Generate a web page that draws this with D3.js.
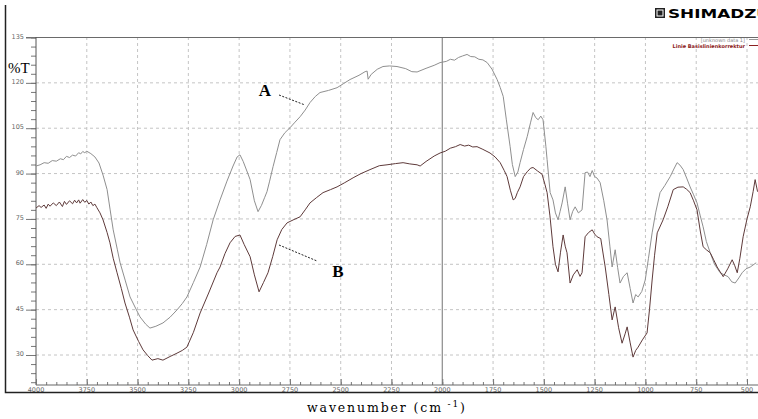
<!doctype html>
<html>
<head>
    <meta charset="utf-8">
    <title>FTIR spectrum</title>
    <script src="https://cdn.jsdelivr.net/npm/d3@7"></script>
    <style>
        html, body { margin: 0; padding: 0; background: #fff; }
        svg { display: block; }
    </style>
</head>
<body>
<div id="chart"></div>
<script>
// wavenumber (cm-1) and %T, curve A (grey, upper)
var wnA = [4000, 3980, 3960, 3940, 3920, 3900, 3880, 3865, 3850, 3835, 3820, 3805, 3790, 3780, 3770, 3760, 3750, 3730, 3710, 3690,
    3670, 3650, 3635, 3620, 3600, 3586, 3560, 3537,
    3510, 3488, 3460, 3439, 3410, 3375, 3340, 3306, 3280, 3257, 3225, 3192, 3160, 3128, 3094, 3060, 3030, 3010, 2996, 2980,
    2960, 2946, 2925, 2907, 2890, 2875, 2863, 2850, 2833, 2815, 2799, 2775, 2749, 2725, 2700, 2675, 2651, 2625, 2602, 2560,
    2518, 2485, 2454, 2410, 2380, 2370, 2365, 2350, 2320, 2292, 2260, 2223, 2180, 2150, 2124, 2080, 2040, 2011, 1980, 1960, 1940, 1920,
    1900, 1878, 1860, 1840, 1820, 1800, 1779, 1755, 1730, 1715, 1700, 1685, 1666, 1655, 1641, 1628, 1617, 1600, 1582, 1565, 1553, 1540, 1528,
    1515, 1504, 1490, 1484, 1469, 1455, 1443, 1430, 1420, 1410, 1395, 1383, 1371, 1358, 1346, 1330, 1312, 1297, 1285, 1273,
    1262, 1250, 1238, 1223, 1205, 1189, 1175, 1164, 1149, 1137, 1125, 1108, 1090, 1075, 1061, 1048, 1036, 1018, 1001, 985,
    967, 950, 928, 905, 878, 860, 844, 830, 814, 797, 780, 763, 746, 730, 716, 700, 681, 660, 645, 632,
    612, 593, 575, 558, 540, 524, 505, 484, 455];
var tA = [92.5, 92.9, 93.6, 93.4, 94.3, 94.1, 94.9, 94.6, 95.7, 95.3, 96.1, 95.8, 96.9, 96.5, 97.3, 96.9, 97.4, 96.6, 95.5, 93.5,
    89.5, 84.7, 78, 71.4, 65, 60.5, 54.5, 49.2,
    45.5, 42.6, 40.2, 38.9, 39.5, 40.6, 42.5, 44.9, 47, 49.2, 54, 59.1, 66.5, 74.7, 81.3, 87.5, 92.5, 95.5, 96.2, 94,
    90.5, 88, 81, 77.4, 79.5, 82, 84, 87.5, 92.3, 97, 101.2, 103.5, 105.2, 107, 108.8, 111, 113.5, 115.5, 116.8, 117.5,
    118.4, 119.8, 121.1, 122.5, 123.7, 123.9, 121.2, 122.8, 124.5, 125.4, 125.6, 125.4, 124.7, 123.7, 123.6, 124.8, 125.8, 126.7, 127.1, 127.8, 127.5, 128.4,
    128.9, 129.4, 128.7, 128.6, 127.8, 127.6, 126.7, 124.5, 121.1, 118.5, 115.5, 108, 98.9, 93, 89, 90.5, 93.6, 98, 102.2, 107, 110.2, 108.5, 107.8,
    109, 107.8, 99, 94.6, 83.7, 81.3, 77, 74.7, 77.5, 80.3, 85.6, 80, 74.7, 77.5, 79, 77, 78, 90.3, 90.5, 89,
    91, 89, 88.5, 87, 81, 74.7, 66, 59.1, 64.8, 59, 53.8, 56, 57.2, 52, 47.2, 50, 49.2, 51, 54.8, 62,
    70.4, 77, 83.7, 86, 89, 91.5, 93.6, 92.8, 91.3, 88.5, 85.6, 83, 80.3, 76, 72.4, 67.5, 63.8, 60, 58.5, 57.2,
    56.5, 55.9, 54.2, 53.8, 55.5, 57.2, 58.5, 59.1, 60.5];

// curve B (dark red, lower)
var wnB = [4000, 3985, 3975, 3960, 3950, 3940, 3931, 3915, 3900, 3885, 3870, 3860, 3850, 3835, 3820, 3810, 3800, 3790, 3783, 3770,
    3760, 3750, 3740, 3730, 3720, 3710, 3700, 3685, 3670, 3650, 3636, 3620, 3601,
    3580, 3562, 3540, 3522, 3495, 3473, 3450, 3429, 3400, 3375, 3340, 3306, 3280, 3257, 3225, 3192, 3150, 3109, 3094, 3070,
    3045, 3020, 2996, 2975, 2946, 2925, 2902, 2880, 2858, 2835, 2813, 2790, 2764, 2730, 2700, 2675, 2651, 2620, 2587, 2550,
    2518, 2480, 2439, 2400, 2356, 2310, 2272, 2230, 2193, 2160, 2124, 2109, 2080, 2040, 2011, 1985, 1960, 1935, 1912, 1890, 1870, 1850, 1829, 1800,
    1765, 1740, 1715, 1695, 1681, 1665, 1651, 1641, 1630, 1617, 1600, 1582, 1565, 1553, 1530, 1509, 1495, 1484, 1470, 1455,
    1443, 1430, 1418, 1405, 1395, 1386, 1371, 1355, 1336, 1322, 1312, 1297, 1280, 1262, 1250, 1238, 1220, 1198, 1180, 1164,
    1149, 1132, 1115, 1100, 1090, 1075, 1061, 1048, 1036, 1015, 992, 980, 967, 955, 942, 913, 890, 863, 840, 814,
    797, 780, 763, 746, 730, 716, 700, 681, 664, 647, 632, 617, 595, 573, 560, 548, 535, 519, 500, 484,
    470, 460, 448];
var tB = [78.6, 79.4, 78.8, 79.6, 78.5, 79.9, 79.2, 80.3, 79.4, 80.6, 79.1, 80.8, 79.8, 81, 80, 81.2, 80.3, 81.3, 80.2, 81.4,
    80.5, 81.1, 79.9, 80.6, 79.4, 79.9, 78.7, 77, 74.7, 70.5, 67.1, 62, 57.2,
    52, 47.2, 42.5, 38.3, 34.5, 31.7, 29.8, 28.3, 28.8, 28.3, 29.5, 30.6, 31.5, 32.6, 37.5, 43.9, 50.5, 57.2, 59.1, 63.5,
    67.1, 69.2, 69.7, 66.5, 62.5, 56.5, 50.9, 54, 57.2, 62.5, 68.1, 71.5, 73.7, 74.8, 75.7, 78, 80.3, 82, 83.7, 84.7,
    85.6, 87, 88.6, 90, 91.3, 92.6, 92.9, 93.3, 93.6, 93.2, 92.9, 92.5, 94, 95.8, 96.8, 97.4, 98.4, 98.9, 99.6, 99.1, 99.4, 98.8, 98.9, 98,
    96.8, 95.5, 93.6, 91, 89, 84.5, 81.3, 81.8, 83.8, 85.6, 89, 90.6, 91.8, 92, 90.8, 89.8, 86.5, 83.7, 76, 65.8,
    60, 57.5, 64, 69.7, 66, 63.8, 53.8, 56.5, 58.2, 56, 57.2, 69.1, 70.5, 71.4, 70, 69.1, 68.5, 59.1, 50, 41.6,
    45.9, 39, 33.9, 37, 39.3, 34, 29.3, 31.5, 32.6, 35, 37.3, 45, 54.8, 63, 70.4, 74.7, 79, 84.7, 85.5, 85.6,
    84.8, 83.7, 81, 78, 71, 65.8, 64.8, 63.8, 61.5, 59.1, 57.5, 55.9, 58.5, 61.5, 59.5, 57.2, 62, 69.1, 75, 79,
    84, 88, 84];

var xTicks = [4000, 3750, 3500, 3250, 3000, 2750, 2500, 2250, 2000, 1750, 1500, 1250, 1000, 750, 500];
var yTicks = [30, 45, 60, 75, 90, 105, 120, 135];

var W = 758, H = 419;
var mLeft = 36, mTop = 37, mBottom = 385;

var svg = d3.select("#chart").append("svg")
    .attr("width", W).attr("height", H);

var x = d3.scaleLinear().domain([4000, 500]).range([36, 747]);
var y = d3.scaleLinear().domain([135, 30]).range([37.5, 355]);

// clip for the plotting area
svg.append("clipPath").attr("id", "plotclip")
    .append("rect").attr("x", mLeft).attr("y", mTop).attr("width", W - mLeft).attr("height", mBottom - mTop);

// grid
var grid = svg.append("g");
grid.selectAll("line.h").data(yTicks.filter(function (d) { return d < 135; }))
    .join("line")
    .attr("x1", mLeft).attr("x2", W)
    .attr("y1", function (d) { return y(d); }).attr("y2", function (d) { return y(d); })
    .attr("stroke", "#c4c4c4").attr("stroke-dasharray", "3,3");
grid.selectAll("line.v").data(xTicks.filter(function (d) { return d < 4000 && d !== 2000; }))
    .join("line")
    .attr("x1", function (d) { return x(d); }).attr("x2", function (d) { return x(d); })
    .attr("y1", mTop).attr("y2", mBottom)
    .attr("stroke", "#c4c4c4").attr("stroke-dasharray", "3,3");
// solid marker line at 2000
grid.append("line")
    .attr("x1", x(2000)).attr("x2", x(2000)).attr("y1", mTop).attr("y2", mBottom)
    .attr("stroke", "#8a8a8a").attr("stroke-width", 1.2);
// top border
grid.append("line")
    .attr("x1", mLeft - 10).attr("x2", W).attr("y1", y(135)).attr("y2", y(135))
    .attr("stroke", "#6a6a6a");

// y axis, major and minor ticks
var yMinor = d3.range(21, 136, 3);
svg.append("g").attr("transform", "translate(" + mLeft + ",0)")
    .call(d3.axisLeft(y).tickValues(yMinor).tickSize(5).tickFormat(""))
    .call(function (g) {
        g.select(".domain").remove();
        g.selectAll("line").attr("stroke", "#777");
    });
svg.append("g").attr("transform", "translate(" + mLeft + ",0)")
    .call(d3.axisLeft(y).tickValues(yTicks).tickSize(10).tickPadding(2))
    .call(function (g) {
        g.select(".domain").remove();
        g.selectAll("line").attr("stroke", "#777");
        g.selectAll("text").attr("font-family", "DejaVu Sans").attr("font-size", 6.5)
            .attr("fill", "#666").attr("dy", "0.1em");
    });
svg.append("line")
    .attr("x1", mLeft).attr("x2", mLeft).attr("y1", mTop).attr("y2", mBottom)
    .attr("stroke", "#555");

// x axis, ticks pointing up
var xMinor = d3.range(500, 4001, 50);
svg.append("g").attr("transform", "translate(0," + mBottom + ")")
    .call(d3.axisTop(x).tickValues(xMinor).tickSize(3).tickFormat(""))
    .call(function (g) {
        g.select(".domain").remove();
        g.selectAll("line").attr("stroke", "#777");
    });
svg.append("g").attr("transform", "translate(0," + mBottom + ")")
    .call(d3.axisTop(x).tickValues(xTicks).tickSize(6).tickFormat(""))
    .call(function (g) {
        g.select(".domain").attr("stroke", "#666").attr("d", "M" + mLeft + ",0H" + W);
        g.selectAll("line").attr("stroke", "#777");
    });
svg.append("g").selectAll("text").data(xTicks)
    .join("text")
    .attr("x", function (d) { return x(d); })
    .attr("y", mBottom + 6.5)
    .attr("text-anchor", "middle")
    .attr("font-family", "DejaVu Sans").attr("font-size", 6.5).attr("fill", "#666")
    .text(function (d) { return d; });

// frame lines at left and bottom
svg.append("path")
    .attr("d", "M5.5,5V392.5H" + W)
    .attr("fill", "none").attr("stroke", "#222").attr("stroke-width", 1.5);

// spectra
var line = d3.line()
    .x(function (d) { return x(d[0]); })
    .y(function (d) { return y(d[1]); });

var plot = svg.append("g").attr("clip-path", "url(#plotclip)");
plot.append("path")
    .datum(d3.zip(wnA, tA))
    .attr("d", line)
    .attr("fill", "none").attr("stroke", "#8f8f8f").attr("stroke-width", 1);
plot.append("path")
    .datum(d3.zip(wnB, tB))
    .attr("d", line)
    .attr("fill", "none").attr("stroke", "#5e3a3a").attr("stroke-width", 1);

// labels A and B with dashed leaders
svg.append("text").attr("x", 265).attr("y", 96)
    .attr("text-anchor", "middle")
    .attr("font-family", "Liberation Serif").attr("font-weight", "bold").attr("font-size", 17)
    .text("A");
svg.append("line").attr("x1", 279).attr("y1", 95).attr("x2", 305).attr("y2", 105)
    .attr("stroke", "#222").attr("stroke-dasharray", "2,1.5");
svg.append("text").attr("x", 338).attr("y", 277)
    .attr("text-anchor", "middle")
    .attr("font-family", "Liberation Serif").attr("font-weight", "bold").attr("font-size", 17)
    .text("B");
svg.append("line").attr("x1", 279).attr("y1", 245).attr("x2", 317).attr("y2", 261)
    .attr("stroke", "#222").attr("stroke-dasharray", "2,1.5");

// axis titles
svg.append("text").attr("x", 8).attr("y", 73)
    .attr("font-family", "Liberation Serif").attr("font-size", 15)
    .text("%T");
var xt = svg.append("text").attr("x", 307).attr("y", 412)
    .attr("font-family", "DejaVu Serif").attr("font-size", 12.5)
    .attr("textLength", 158).attr("lengthAdjust", "spacing");
xt.append("tspan").text("wavenumber (cm");
xt.append("tspan").attr("dy", -5).attr("font-size", 9).text(" -1");
xt.append("tspan").attr("dy", 5).text(")");

// instrument logo
var logo = svg.append("g");
logo.append("rect").attr("x", 655).attr("y", 8).attr("width", 10).attr("height", 10)
    .attr("fill", "#222");
logo.append("rect").attr("x", 657).attr("y", 10).attr("width", 6).attr("height", 6)
    .attr("fill", "none").attr("stroke", "#fff").attr("stroke-width", 1);
logo.append("text").attr("x", 668).attr("y", 17.5)
    .attr("font-family", "DejaVu Sans").attr("font-weight", "bold").attr("font-size", 12)
    .attr("textLength", 102).attr("lengthAdjust", "spacingAndGlyphs")
    .text("SHIMADZU");

// small legend in the top right corner
var leg = svg.append("g");
leg.append("text").attr("x", 745).attr("y", 41.5).attr("text-anchor", "end")
    .attr("font-family", "DejaVu Sans").attr("font-size", 5).attr("fill", "#888")
    .text("[unknown data 1]");
leg.append("text").attr("x", 745).attr("y", 47.5).attr("text-anchor", "end")
    .attr("font-family", "DejaVu Sans").attr("font-weight", "bold").attr("font-size", 5).attr("fill", "#8b2020")
    .text("Linie Basislinienkorrektur");
leg.append("line").attr("x1", 749).attr("x2", W).attr("y1", 39.5).attr("y2", 39.5).attr("stroke", "#999");
leg.append("line").attr("x1", 749).attr("x2", W).attr("y1", 45.5).attr("y2", 45.5).attr("stroke", "#8b2020");
</script>
</body>
</html>
